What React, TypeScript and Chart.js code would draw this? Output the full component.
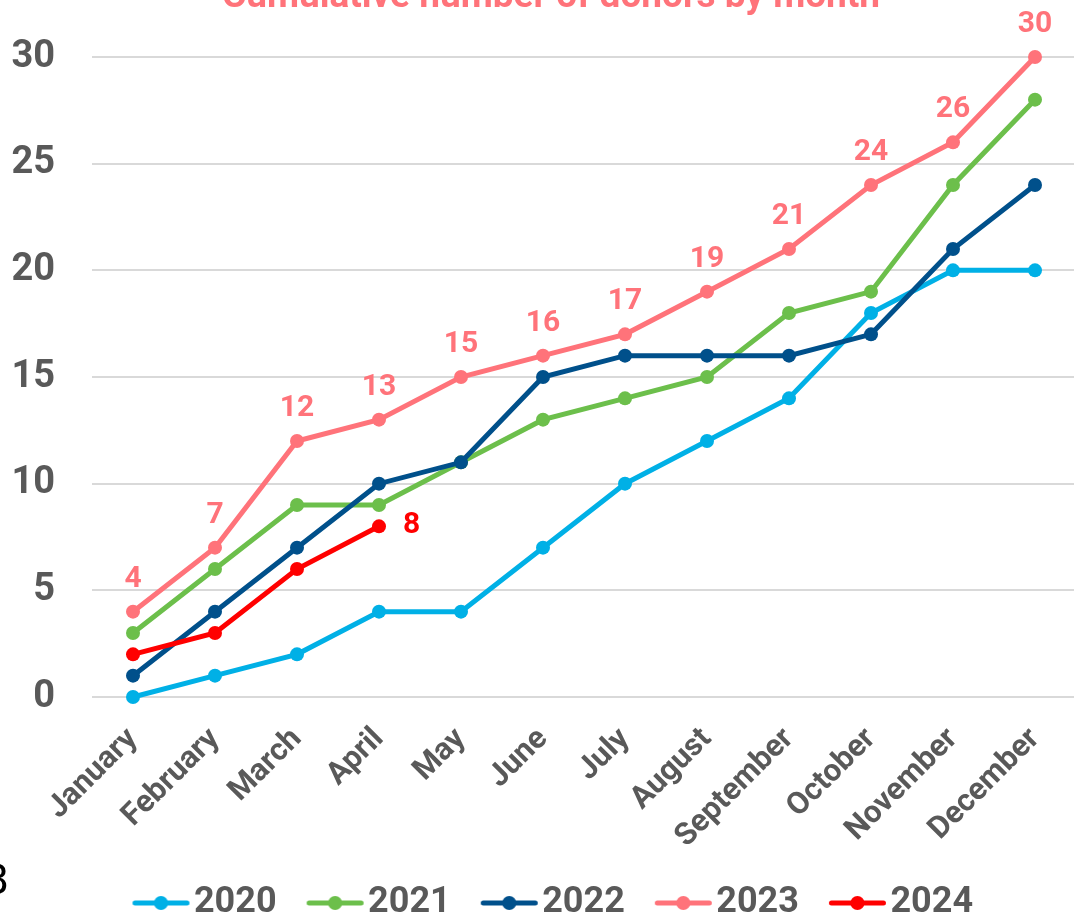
import { useEffect, useRef } from "react";
import { Chart, registerables } from "chart.js";

Chart.register(...registerables);

const titleText = "Cumulative number of donors by month";
const months = [
  "January", "February", "March", "April", "May", "June",
  "July", "August", "September", "October", "November", "December",
];
const years = ["2020", "2021", "2022", "2023", "2024"];
const v2020 = [0, 1, 2, 4, 4, 7, 10, 12, 14, 18, 20, 20];
const v2021 = [3, 6, 9, 9, 11, 13, 14, 15, 18, 19, 24, 28];
const v2022 = [1, 4, 7, 10, 11, 15, 16, 16, 16, 17, 21, 24];
const v2023 = [4, 7, 12, 13, 15, 16, 17, 19, 21, 24, 26, 30];
const v2024 = [2, 3, 6, 8];
const seriesValues = [v2020, v2021, v2022, v2023, v2024];
const colors = ["#00B0E6", "#6CBF4B", "#00508B", "#FF737A", "#FF0000"];
const yMin = 0;
const yMax = 30;
const yStep = 5;

const FONT = "Roboto";
const GREY = "#595959";

// legend marker: a short line with a dot, drawn offset to the right inside a wider transparent image
function markerImage(color: string) {
  const c = document.createElement("canvas");
  c.width = 100;
  c.height = 16;
  const x = c.getContext("2d")!;
  const cx = 67.5;
  x.strokeStyle = color;
  x.lineWidth = 5;
  x.lineCap = "round";
  x.beginPath();
  x.moveTo(cx - 26, 8);
  x.lineTo(cx + 26, 8);
  x.stroke();
  x.fillStyle = color;
  x.beginPath();
  x.arc(cx, 8, 7, 0, Math.PI * 2);
  x.fill();
  return c;
}

const titlePlugin = {
  id: "topTitle",
  afterDraw(chart: any) {
    const ctx = chart.ctx;
    ctx.save();
    ctx.font = `bold 37px ${FONT}`;
    ctx.fillStyle = colors[3];
    ctx.textAlign = "center";
    ctx.textBaseline = "alphabetic";
    ctx.fillText(titleText, 543, 30);
    ctx.restore();
  },
};

const valueLabels = {
  id: "valueLabels",
  afterDatasetsDraw(chart: any) {
    const ctx = chart.ctx;
    ctx.save();
    ctx.font = `bold 30px ${FONT}`;
    const m23 = chart.getDatasetMeta(3);
    ctx.fillStyle = colors[3];
    ctx.textAlign = "center";
    ctx.textBaseline = "alphabetic";
    m23.data.forEach((pt: any, i: number) => {
      ctx.fillText(String(v2023[i]), pt.x, pt.y - 25);
    });
    const m24 = chart.getDatasetMeta(4);
    const last = m24.data[m24.data.length - 1];
    ctx.fillStyle = colors[4];
    ctx.textAlign = "left";
    ctx.textBaseline = "middle";
    ctx.fillText(String(v2024[v2024.length - 1]), last.x + 24, last.y - 1);
    ctx.restore();
  },
};

export default function App() {
  const ref = useRef<HTMLCanvasElement>(null);
  useEffect(() => {
    const canvas = ref.current!;
    const markers = colors.map(markerImage);
    const chart = new Chart(canvas, {
      type: "line",
      data: {
        labels: months,
        datasets: years.map((y, i) => ({
          label: y,
          data: seriesValues[i],
          borderColor: colors[i],
          backgroundColor: colors[i],
          pointBackgroundColor: colors[i],
          pointBorderColor: colors[i],
          borderWidth: 5,
          pointRadius: 7,
          pointBorderWidth: 0,
          tension: 0,
          clip: false as any,
          order: years.length - i,
        })),
      },
      options: {
        animation: false,
        responsive: false,
        events: [],
        layout: { padding: { left: 0, right: 20, top: 80, bottom: 0 } },
        scales: {
          x: {
            offset: true,
            grid: { display: false, drawTicks: false },
            border: { display: false },
            ticks: {
              autoSkip: false,
              maxRotation: 45,
              minRotation: 45,
              padding: 24,
              color: GREY,
              font: { family: FONT, size: 31, weight: "bold" },
            },
            afterFit: (s: any) => {
              s.height = 179.5;
            },
          },
          y: {
            min: yMin,
            max: yMax,
            ticks: {
              stepSize: yStep,
              padding: 37,
              color: GREY,
              font: { family: FONT, size: 38, weight: "bold" },
            },
            grid: { color: "#D9D9D9", lineWidth: 2, drawTicks: false },
            border: { display: false },
            afterFit: (s: any) => {
              s.width = 84;
            },
          },
        },
        plugins: {
          tooltip: { enabled: false },
          title: { display: false },
          legend: {
            position: "bottom",
            labels: {
              usePointStyle: true,
              pointStyleWidth: 65,
              boxHeight: 16,
              padding: 8.5,
              color: GREY,
              font: { family: FONT, size: 36, weight: "bold" },
              generateLabels: (ch: any) =>
                ch.data.datasets.map((ds: any, i: number) => ({
                  text: ds.label,
                  fillStyle: colors[i],
                  strokeStyle: colors[i],
                  fontColor: GREY,
                  lineWidth: 0,
                  pointStyle: markers[i],
                  hidden: false,
                  datasetIndex: i,
                })),
            },
          },
        },
      },
      plugins: [valueLabels, titlePlugin],
    });
    return () => chart.destroy();
  }, []);

  return (
    <div style={{ position: "fixed", left: 0, top: 0, width: 1074, height: 917, overflow: "hidden", background: "#fff" }}>
      <canvas
        ref={ref}
        width={1088}
        height={954}
        style={{ position: "absolute", left: 8, top: -23, width: 1088, height: 954 }}
      />
      <span
        style={{
          position: "absolute",
          left: -16,
          top: 860,
          fontSize: 40,
          lineHeight: 1,
          fontFamily: "DejaVu Sans",
          color: "#000",
        }}
      >
        3
      </span>
    </div>
  );
}
